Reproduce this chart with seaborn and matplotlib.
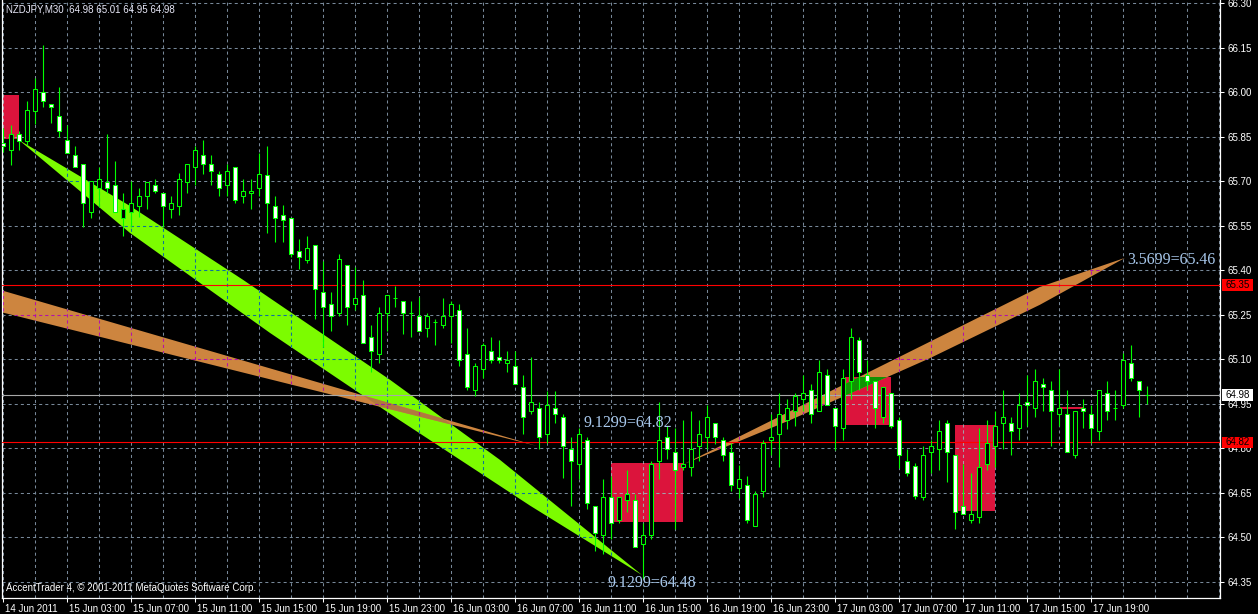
import numpy as np
import pandas as pd
import matplotlib
matplotlib.use("Agg")
import matplotlib.pyplot as plt
import seaborn as sns
from matplotlib.patches import Rectangle, Polygon
from matplotlib.collections import LineCollection
import matplotlib.transforms as mtransforms

# ---------------- data ----------------
opens = [65.83, 65.807, 65.858, 65.837, 65.938, 66.000, 65.959, 65.919, 65.838, 65.787,
         65.757, 65.598, 65.679, 65.699, 65.689, 65.578, 65.598, 65.617, 65.649, 65.689,
         65.659, 65.608, 65.618, 65.699, 65.747, 65.787, 65.757, 65.726, 65.689, 65.747,
         65.649, 65.659, 65.679, 65.720, 65.618, 65.588, 65.578, 65.466, 65.436, 65.486,
         65.328, 65.287, 65.257, 65.419, 65.287, 65.318, 65.176, 65.118, 65.257, 65.307,
         65.297, 65.257, 65.247, 65.206, 65.226, 65.216, 65.247, 65.267, 65.118, 64.997,
         65.068, 65.128, 65.108, 65.088, 65.078, 65.007, 64.926, 64.936, 64.848, 64.936,
         64.905, 64.797, 64.747, 64.828, 64.605, 64.507, 64.635, 64.557, 64.625, 64.625,
         64.476, 64.507, 64.757, 64.838, 64.787, 64.737, 64.737, 64.808, 64.838, 64.885,
         64.828, 64.787, 64.666, 64.676, 64.537, 64.655, 64.828, 64.848, 64.895, 64.926,
         64.966, 64.997, 64.926, 65.047, 64.936, 64.868, 65.027, 65.166, 65.047, 65.027,
         64.905, 64.986, 64.895, 64.757, 64.740, 64.637, 64.787, 64.797, 64.885, 64.777,
         64.605, 64.557, 64.568, 64.747, 64.807, 64.885, 64.885, 64.868, 64.956, 64.936,
         65.017, 64.997, 64.916, 64.916, 64.777, 64.936, 64.916, 64.858, 64.986, 64.936,
         64.946, 65.088, 65.027, 64.980]
highs = [65.88, 65.890, 65.869, 65.971, 66.047, 66.160, 65.960, 66.018, 65.890, 65.819,
         65.757, 65.700, 65.749, 65.859, 65.768, 65.659, 65.700, 65.679, 65.699, 65.709,
         65.659, 65.649, 65.728, 65.757, 65.819, 65.838, 65.787, 65.736, 65.757, 65.747,
         65.709, 65.709, 65.797, 65.818, 65.649, 65.619, 65.578, 65.507, 65.517, 65.486,
         65.432, 65.328, 65.456, 65.419, 65.412, 65.368, 65.216, 65.277, 65.318, 65.346,
         65.297, 65.298, 65.311, 65.257, 65.236, 65.307, 65.297, 65.287, 65.206, 65.088,
         65.155, 65.176, 65.166, 65.128, 65.128, 65.047, 65.108, 64.956, 64.994, 64.994,
         64.916, 64.838, 64.868, 64.838, 64.605, 64.696, 64.706, 64.635, 64.726, 64.645,
         64.547, 64.757, 64.956, 64.875, 64.868, 64.895, 64.926, 64.895, 64.946, 64.885,
         64.838, 64.818, 64.743, 64.706, 64.655, 64.828, 64.916, 64.986, 64.966, 64.986,
         65.047, 65.017, 65.098, 65.068, 64.936, 65.068, 65.206, 65.176, 65.098, 65.027,
         65.007, 64.986, 64.905, 64.797, 64.750, 64.807, 64.828, 64.895, 64.895, 64.777,
         64.747, 64.716, 64.868, 64.895, 64.926, 64.997, 64.905, 64.986, 65.047, 65.068,
         65.037, 65.027, 65.068, 64.997, 64.926, 64.966, 64.946, 64.997, 65.027, 64.997,
         65.122, 65.149, 65.027, 65.010]
lows = [65.80, 65.754, 65.805, 65.822, 65.892, 65.949, 65.897, 65.848, 65.797, 65.747,
        65.546, 65.578, 65.614, 65.659, 65.598, 65.517, 65.546, 65.580, 65.608, 65.659,
        65.546, 65.578, 65.588, 65.659, 65.689, 65.726, 65.689, 65.649, 65.649, 65.628,
        65.628, 65.608, 65.649, 65.527, 65.497, 65.495, 65.445, 65.405, 65.426, 65.236,
        65.141, 65.196, 65.247, 65.216, 65.267, 65.155, 65.056, 65.088, 65.196, 65.277,
        65.186, 65.174, 65.196, 65.174, 65.147, 65.206, 65.155, 65.078, 64.997, 64.976,
        65.037, 65.088, 65.088, 65.057, 65.017, 64.847, 64.915, 64.797, 64.818, 64.885,
        64.701, 64.605, 64.696, 64.595, 64.454, 64.443, 64.493, 64.547, 64.584, 64.466,
        64.358, 64.493, 64.696, 64.764, 64.527, 64.726, 64.706, 64.757, 64.797, 64.814,
        64.757, 64.655, 64.634, 64.547, 64.537, 64.635, 64.777, 64.736, 64.865, 64.875,
        64.926, 64.885, 64.926, 64.946, 64.794, 64.828, 64.966, 64.997, 64.997, 64.868,
        64.885, 64.868, 64.733, 64.706, 64.630, 64.625, 64.716, 64.726, 64.686, 64.527,
        64.578, 64.547, 64.547, 64.726, 64.736, 64.797, 64.777, 64.828, 64.875, 64.905,
        64.926, 64.807, 64.875, 64.787, 64.767, 64.868, 64.817, 64.828, 64.895, 64.895,
        64.936, 65.027, 64.905, 64.950]
closes = [65.82, 65.858, 65.837, 65.939, 66.010, 65.970, 65.949, 65.868, 65.797, 65.747,
          65.628, 65.700, 65.709, 65.679, 65.598, 65.608, 65.628, 65.649, 65.699, 65.669,
          65.618, 65.628, 65.709, 65.757, 65.807, 65.757, 65.736, 65.679, 65.736, 65.638,
          65.669, 65.669, 65.726, 65.628, 65.578, 65.568, 65.456, 65.446, 65.476, 65.338,
          65.277, 65.247, 65.439, 65.277, 65.307, 65.155, 65.128, 65.257, 65.318, 65.307,
          65.257, 65.257, 65.196, 65.247, 65.226, 65.247, 65.287, 65.098, 65.007, 65.078,
          65.149, 65.098, 65.098, 65.098, 65.017, 64.905, 64.956, 64.838, 64.946, 64.916,
          64.808, 64.757, 64.848, 64.615, 64.516, 64.635, 64.547, 64.635, 64.645, 64.466,
          64.507, 64.747, 64.828, 64.797, 64.726, 64.747, 64.797, 64.848, 64.905, 64.838,
          64.777, 64.676, 64.696, 64.557, 64.645, 64.818, 64.838, 64.916, 64.936, 64.976,
          64.986, 64.916, 65.057, 64.946, 64.875, 65.037, 65.176, 65.057, 65.027, 64.936,
          65.007, 64.875, 64.777, 64.716, 64.640, 64.778, 64.807, 64.858, 64.787, 64.584,
          64.578, 64.578, 64.736, 64.818, 64.875, 64.905, 64.858, 64.946, 64.946, 65.027,
          65.007, 64.926, 64.936, 64.787, 64.926, 64.926, 64.868, 64.997, 64.926, 64.936,
          65.098, 65.037, 64.997, 64.980]

time_labels = ["14 Jun 2011", "15 Jun 03:00", "15 Jun 07:00", "15 Jun 11:00", "15 Jun 15:00",
               "15 Jun 19:00", "15 Jun 23:00", "16 Jun 03:00", "16 Jun 07:00", "16 Jun 11:00",
               "16 Jun 15:00", "16 Jun 19:00", "16 Jun 23:00", "17 Jun 03:00", "17 Jun 07:00",
               "17 Jun 11:00", "17 Jun 15:00", "17 Jun 19:00"]
price_ticks = [66.30, 66.15, 66.00, 65.85, 65.70, 65.55, 65.40, 65.25, 65.10, 64.95, 64.80, 64.65, 64.50, 64.35]

red_levels = [65.35, 64.82]
bid_level = 64.98
title_text = "NZDJPY,M30  64.98 65.01 64.95 64.98"
footer_text = "AccentTrader 4, \u00a9 2001-2011 MetaQuotes Software Corp."

# rectangle objects: (bar_left, bar_right, price_low, price_high)
rect_left = [-0.04, 76.0, 105.3, 119.0, 132.1]
rect_right = [2.0, 85.0, 111.0, 124.0, 135.0]
rect_low = [65.842, 64.553, 64.878, 64.589, 64.932]
rect_high = [65.991, 64.750, 65.039, 64.878, 64.938]

# green triangle-like band (bar, price) outline
green_bars = [2.0, 15.875, 30.0, 48.375, 62.125, 79.875, 65.875, 49.625, 33.375, 15.875]
green_prices = [65.839, 65.617, 65.368, 65.031, 64.761, 64.373, 64.607, 64.894, 65.189, 65.526]
# orange band 1
orange1_bars = [-0.375, 66.75, -0.375]
orange1_prices = [65.334, 64.808, 65.260]
# orange band 2
orange2_bars = [85.125, 129.625, 140.25, 129.625, 115.875, 98.375]
orange2_prices = [64.747, 65.344, 65.442, 65.284, 65.104, 64.895]

fib_texts = ["9.1299=64.82", "9.1299=64.48", "3.5699=65.46"]
fib_bars = [72.5, 75.5, 140.5]
fib_prices = [64.873, 64.333, 65.421]

# ---------------- style ----------------
sns.set_theme(style="dark", rc={"axes.facecolor": "black", "figure.facecolor": "black",
                                "axes.grid": False, "lines.scale_dashes": False})
plt.rcParams["font.family"] = ["Liberation Sans", "DejaVu Sans"]

W, H = 1258, 614
fig = plt.figure(figsize=(W / 100, H / 100), dpi=100, facecolor="black")
ax_left, ax_right, ax_top, ax_bottom = 2, 1220, 0, 598
ax = fig.add_axes([ax_left / W, (H - ax_bottom) / H, (ax_right - ax_left) / W, (ax_bottom - ax_top) / H])
ax.set_facecolor("black")

PX_BAR = 8.0
PX_PRICE = 296.7
x0 = -0.125
x1 = x0 + (ax_right - ax_left) / PX_BAR
ytop = 66.0 + 92.3 / PX_PRICE
ybot = ytop - (ax_bottom - ax_top) / PX_PRICE
ax.set_xlim(x0, x1)
ax.set_ylim(ybot, ytop)

GRID = "#778899"
RED_OBJ = "#DC143C"
ORANGE = "#CD853F"
LGREEN = "#7CFC00"


def xor(c1, c2):
    a = int(c1[1:], 16)
    b = int(c2[1:], 16)
    return "#%06X" % (a ^ b)


# objects (background)
rect_patches = []
for l, r, lo, hi in zip(rect_left, rect_right, rect_low, rect_high):
    p = Rectangle((l, lo), r - l, hi - lo, facecolor=RED_OBJ, edgecolor="none", zorder=1)
    ax.add_patch(p)
    rect_patches.append(p)

green_poly = Polygon(np.column_stack([green_bars, green_prices]), closed=True,
                     facecolor=LGREEN, edgecolor="none", zorder=1)
ax.add_patch(green_poly)
or1 = Polygon(np.column_stack([orange1_bars, orange1_prices]), closed=True,
              facecolor=ORANGE, edgecolor="none", zorder=1.1)
ax.add_patch(or1)
or2 = Polygon(np.column_stack([orange2_bars, orange2_prices]), closed=True,
              facecolor=ORANGE, edgecolor="none", zorder=1.1)
ax.add_patch(or2)

# XOR overlaps
ov1 = Polygon(np.column_stack([orange1_bars, orange1_prices]), closed=True,
              facecolor=xor(ORANGE, LGREEN), edgecolor="none", zorder=1.5)
ax.add_patch(ov1)
ov1.set_clip_path(green_poly)
ov2 = Polygon(np.column_stack([orange2_bars, orange2_prices]), closed=True,
              facecolor=xor(ORANGE, RED_OBJ), edgecolor="none", zorder=1.5)
ax.add_patch(ov2)
ov2.set_clip_path(rect_patches[2])

# grid
segs = []
for b in np.arange(0, x1, 4):
    segs.append([(b, ybot), (b, ytop)])
for p in price_ticks:
    segs.append([(x0, p), (x1, p)])
dash = (0, (2.2, 2.2))
ax.add_collection(LineCollection(segs, colors=GRID, linewidths=0.75, linestyles=[dash], zorder=2))
for patch, col in [(green_poly, LGREEN), (or1, ORANGE), (or2, ORANGE)] + [(rp, RED_OBJ) for rp in rect_patches]:
    lc = LineCollection(segs, colors=xor(GRID, col), linewidths=0.75, linestyles=[dash], zorder=2.1)
    ax.add_collection(lc)
    lc.set_clip_path(patch)

# horizontal lines
for lvl in red_levels:
    ax.axhline(lvl, color="#FF0000", lw=0.8, zorder=3)
ax.axhline(bid_level, color="#A8A8A8", lw=0.8, zorder=3)

# candles
df = pd.DataFrame({"o": opens, "h": highs, "l": lows, "c": closes})
df["i"] = np.arange(len(df))
ax.vlines(df["i"], df["l"], df["h"], color="#00FF00", lw=0.8, zorder=4)
bw = 0.5
for i, o, c in zip(df["i"], df["o"], df["c"]):
    fc = "white" if c < o else "black"
    ax.add_patch(Rectangle((i - bw / 2, min(o, c)), bw, abs(c - o), facecolor=fc,
                           edgecolor="#00FF00", lw=0.75, zorder=5))

# fib style labels
for t, b, p in zip(fib_texts, fib_bars, fib_prices):
    ax.text(b, p, t, color="#A8C8EC", fontsize=11.5, family=["Liberation Serif", "DejaVu Serif"],
            va="baseline", ha="left", zorder=6)

# axes styling
ax.spines["top"].set_visible(False)
for s in ["left", "bottom", "right"]:
    ax.spines[s].set_color("white")
    ax.spines[s].set_linewidth(0.9)

ax.yaxis.tick_right()
ax.set_yticks(price_ticks)
ax.set_yticklabels(["%.2f" % p for p in price_ticks])
ax.tick_params(axis="y", right=True, left=False, labelright=True, labelleft=False,
               length=3, width=0.75, colors="white", labelsize=7, pad=2.5)
xt = np.arange(len(time_labels)) * 8
ax.set_xticks(xt)
ax.set_xticklabels(time_labels)
ax.tick_params(axis="x", bottom=True, length=3, width=0.75, colors="white", labelsize=7, pad=1.5)
offset = mtransforms.ScaledTranslation(2 / 100, 0, fig.dpi_scale_trans)
for lab in ax.get_xticklabels():
    lab.set_horizontalalignment("left")
    lab.set_transform(lab.get_transform() + offset)

# right-axis price boxes
btrans = mtransforms.blended_transform_factory(fig.transFigure, ax.transData)
box_h = 11.5 / PX_PRICE
for lvl, fc, tc in [(red_levels[0], "#FF0000", "black"), (bid_level, "white", "black"),
                    (red_levels[1], "#FF0000", "black")]:
    ax.add_patch(Rectangle((1222 / W, lvl - box_h / 2), 31 / W, box_h, transform=btrans,
                           facecolor=fc, edgecolor="none", clip_on=False, zorder=10))
    ax.text(1226 / W, lvl, "%.2f" % lvl, transform=btrans, color=tc, fontsize=7,
            va="center", ha="left", zorder=11, clip_on=False)

fig.text(6 / W, 1 - 10 / H, title_text, color="#E8E8F8", fontsize=7, va="center", ha="left")
fig.text(6 / W, 1 - 588 / H, footer_text, color="white", fontsize=7, va="center", ha="left")

fig.savefig("out.png", dpi=100, facecolor="black")
